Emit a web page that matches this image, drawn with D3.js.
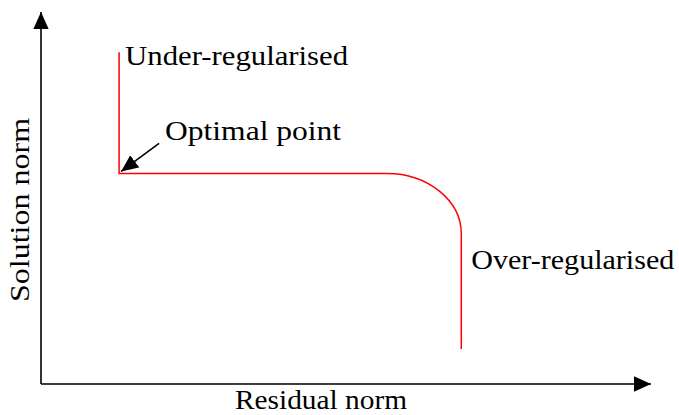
<!DOCTYPE html>
<html>
<head>
<meta charset="utf-8">
<script src="https://cdn.jsdelivr.net/npm/d3@7"></script>
<style>
  body { margin: 0; background: #fff; }
</style>
</head>
<body>
<div id="chart"></div>
<script>
// L-curve sketch: residual norm vs solution norm (no ticks, just shape)

const width = 679;
const height = 415;

// curve key points in axis units (0..100)
const curveX = [12.8, 12.8, 56.7, 68.9, 68.9];
const curveY = [89.2, 56.6, 56.6, 40.4, 9.4];

const labels = ['Under-regularised', 'Optimal point', 'Over-regularised'];
const axisLabels = ['Residual norm', 'Solution norm'];

const svg = d3.select('#chart').append('svg')
  .attr('width', width)
  .attr('height', height)

const xScale = d3.scaleLinear().domain([0, 100]).range([41, 651]);
const yScale = d3.scaleLinear().domain([0, 100]).range([384, 12]);

const defs = svg.append('defs');
defs.append('marker')
  .attr('id', 'head')
  .attr('viewBox', '0 0 10 10')
  .attr('refX', 10).attr('refY', 5)
  .attr('markerWidth', 17).attr('markerHeight', 17)
  .attr('markerUnits', 'userSpaceOnUse')
  .attr('orient', 'auto')
  .append('path')
  .attr('d', 'M0,0.5 L10,5 L0,9.5 Z')
  .attr('fill', '#000')

// axes
svg.append('line')
  .attr('x1', xScale(0)).attr('y1', yScale(0))
  .attr('x2', xScale(100)).attr('y2', yScale(0))
  .attr('stroke', '#000').attr('stroke-width', 1.6)
  .attr('marker-end', 'url(#head)')

svg.append('line')
  .attr('x1', xScale(0)).attr('y1', yScale(0))
  .attr('x2', xScale(0)).attr('y2', yScale(100))
  .attr('stroke', '#000').attr('stroke-width', 1.6)
  .attr('marker-end', 'url(#head)')

// curve: straight runs with a rounded knee
const px = curveX.map(xScale);
const py = curveY.map(yScale);
const k = 0.55;
const p = d3.path();
p.moveTo(px[0], py[0]);
p.lineTo(px[1], py[1]);
p.lineTo(px[2], py[2]);
p.bezierCurveTo(px[2] + k * (px[3] - px[2]), py[2],
  px[3], py[3] - k * (py[3] - py[2]),
  px[3], py[3]);
p.lineTo(px[4], py[4]);

svg.append('path')
  .attr('d', p.toString())
  .attr('fill', 'none')
  .attr('stroke', '#ff0000')
  .attr('stroke-width', 1.5)

// pointer to the corner
svg.append('line')
  .attr('x1', px[1] + 40).attr('y1', py[1] - 30)
  .attr('x2', px[1] + 2).attr('y2', py[1] - 2)
  .attr('stroke', '#000').attr('stroke-width', 1.6)
  .attr('marker-end', 'url(#head)')

const fs = '27px';
const font = '"Liberation Serif", serif';

function label(sel) {
  return sel.style('font-family', font).style('font-size', fs)
    .attr('lengthAdjust', 'spacingAndGlyphs').attr('fill', '#000');
}

label(svg.append('text'))
  .attr('x', px[0] + 6).attr('y', py[0] + 13)
  .attr('textLength', 223)
  .text(labels[0])

label(svg.append('text'))
  .attr('x', px[1] + 46).attr('y', py[1] - 33)
  .attr('textLength', 176)
  .text(labels[1])

label(svg.append('text'))
  .attr('x', px[3] + 10).attr('y', py[3] + 35)
  .attr('textLength', 203)
  .text(labels[2])

label(svg.append('text'))
  .attr('x', 321).attr('y', 409)
  .attr('text-anchor', 'middle')
  .attr('textLength', 172)
  .text(axisLabels[0])

label(svg.append('text'))
  .attr('transform', 'translate(29, 210) rotate(-90)')
  .attr('text-anchor', 'middle')
  .attr('textLength', 184)
  .text(axisLabels[1])
</script>
</body>
</html>
